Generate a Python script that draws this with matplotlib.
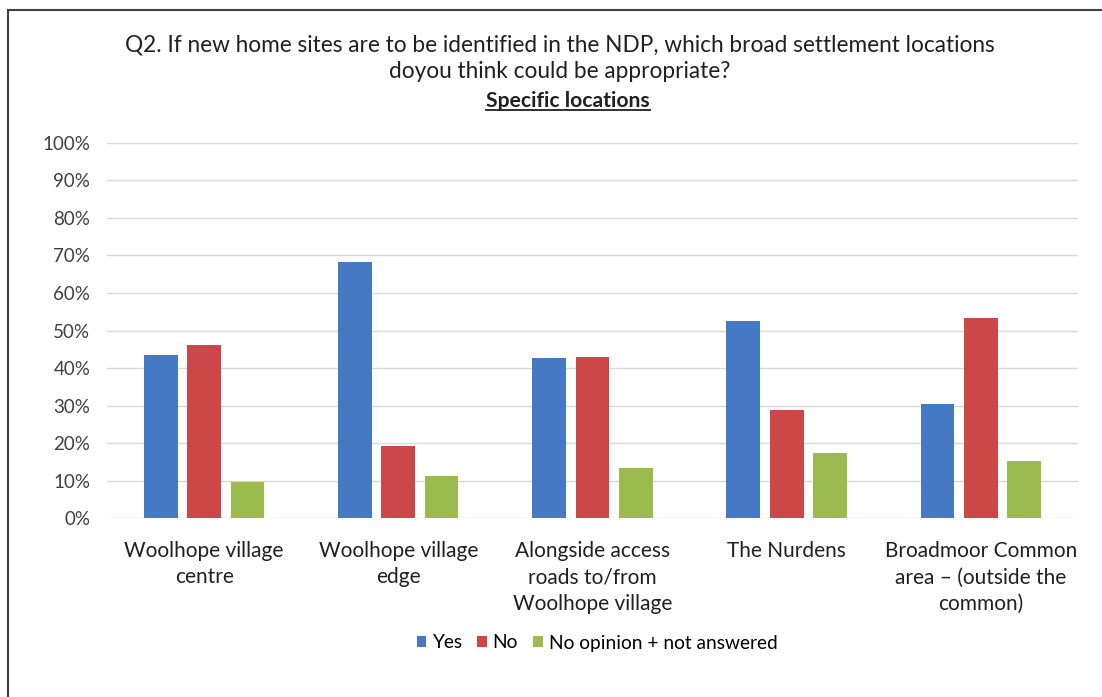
import matplotlib
matplotlib.use("Agg")
import matplotlib.pyplot as plt
import numpy as np
from matplotlib.patches import Rectangle
from matplotlib.lines import Line2D

categories = ["Woolhope village\ncentre", "Woolhope village\nedge",
              "Alongside access\nroads to/from\nWoolhope village", "The Nurdens",
              "Broadmoor Common\narea \u2013 (outside the\ncommon)"]
series_names = ["Yes", "No", "No opinion + not answered"]
yes = [43.5, 68.3, 42.6, 52.6, 30.4]
no = [46.1, 19.4, 43.0, 28.9, 53.2]
noop = [9.6, 11.4, 13.4, 17.3, 15.4]
yticks = [0, 10, 20, 30, 40, 50, 60, 70, 80, 90, 100]
ytick_labels = ["0%", "10%", "20%", "30%", "40%", "50%", "60%", "70%", "80%", "90%", "100%"]

colors = ["#4579c4", "#cc4848", "#9bbb4f"]
plt.rcParams['font.family'] = ['Lato', 'DejaVu Sans']

fig = plt.figure(figsize=(11.02, 6.97), dpi=100)
ax = fig.add_axes([0.0971, 0.2561, 0.8811, 0.5394])

x = np.arange(len(categories))
width = 0.174
pitch = 0.223
for i, (vals, name) in enumerate(zip([yes, no, noop], series_names)):
    ax.bar(x + (i - 1) * pitch, vals, width, color=colors[i], label=name, zorder=3)

ax.set_xlim(-0.5, len(categories) - 0.5)
ax.set_ylim(0, 100)
ax.set_yticks(yticks)
ax.set_yticklabels(ytick_labels, fontsize=13.5, color="#404040")
ax.set_xticks(x)
ax.set_xticklabels(categories, fontsize=15, color="#202020", linespacing=1.42, va="top")
ax.tick_params(axis="both", length=0)
ax.tick_params(axis="x", pad=16)
ax.tick_params(axis="y", pad=12)
for s in ax.spines.values():
    s.set_visible(False)
ax.grid(axis="y", color="#d9d9d9", linewidth=1.0, zorder=0)
ax.set_axisbelow(True)

leg = fig.legend(loc="center", bbox_to_anchor=(597 / 1102, 1 - 643 / 697), ncol=3,
                 frameon=False, fontsize=13.8, handlelength=0.5, handleheight=0.5,
                 handletextpad=0.3, columnspacing=0.8)

cx = 560 / 1102
fig.text(cx, 1 - 45 / 697, "Q2. If new home sites are to be identified in the NDP, which broad settlement locations",
         ha="center", va="center", fontsize=16.3, color="#202020")
fig.text(cx, 1 - 72 / 697, "doyou think could be appropriate?",
         ha="center", va="center", fontsize=16.3, color="#202020")
t3 = fig.text(568 / 1102, 1 - 101 / 697, "Specific locations",
              ha="center", va="center", fontsize=15.2, fontweight="bold", color="#202020")

fig.canvas.draw()
bb = t3.get_window_extent().transformed(fig.transFigure.inverted())
fig.add_artist(Line2D([bb.x0, bb.x1], [bb.y0 + 0.002, bb.y0 + 0.002], transform=fig.transFigure,
                      color="#202020", linewidth=1.3))

fig.add_artist(Rectangle((8 / 1102, -0.05), 1.2, 1 - 10 / 697 + 0.05, transform=fig.transFigure,
                         fill=False, edgecolor="#404040", linewidth=1.5))

fig.savefig("out.png", dpi=100)
